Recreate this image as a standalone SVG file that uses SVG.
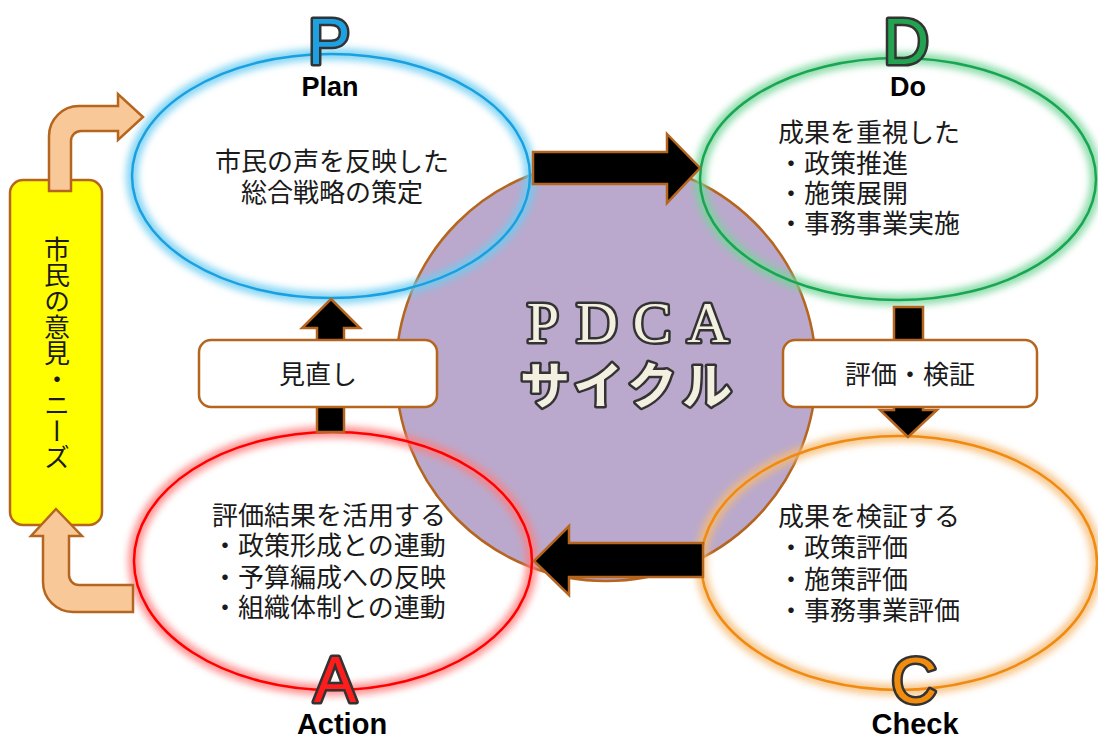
<svg xmlns="http://www.w3.org/2000/svg" width="1098" height="738" viewBox="0 0 1098 738">
<defs>
<style>
.jp{font-family:"Noto Sans CJK JP","Noto Sans",sans-serif;font-size:26px;fill:#1a1a1a;}
.lbl{font-family:"Liberation Sans",Arial,sans-serif;font-weight:bold;fill:#000;text-anchor:middle;}
.big{font-family:"Liberation Sans",Arial,sans-serif;font-size:64px;stroke:#333;stroke-width:5;stroke-linejoin:round;paint-order:stroke;text-anchor:middle;}
.pd{font-family:"Liberation Serif","Times New Roman",serif;font-size:58px;fill:#f4f0e1;stroke:#333;stroke-width:5;stroke-linejoin:round;paint-order:stroke;text-anchor:middle;}
.kt{font-family:"Noto Sans CJK JP",sans-serif;font-weight:bold;font-size:50px;fill:#f4f0e1;stroke:#333;stroke-width:5;stroke-linejoin:round;paint-order:stroke;text-anchor:middle;}
.blk{fill:#000;stroke:#b5651d;stroke-width:2.5;stroke-linejoin:miter;}
.peach{fill:#f9c899;stroke:#b5651d;stroke-width:2.5;}
.box{fill:#fff;stroke:#b5651d;stroke-width:2.5;}
.ring{fill:none;stroke-width:2.5;}
.glow{fill:none;stroke-width:12;opacity:0.8;filter:url(#blur);}
</style>
<filter id="blur" x="-10%" y="-10%" width="120%" height="120%"><feGaussianBlur stdDeviation="3.5"/></filter>
</defs>
<rect width="1098" height="738" fill="#fff"/>

<g id="cycle">
<circle cx="606" cy="371" r="210" fill="#baa9cc" stroke="#b5651d" stroke-width="2.5"/>
<text class="pd" x="543" y="342">P</text>
<text class="pd" x="597" y="342">D</text>
<text class="pd" x="652" y="342">C</text>
<text class="pd" x="708" y="342">A</text>
<text class="kt" x="545" y="404">サ</text>
<text class="kt" x="598" y="404">イ</text>
<text class="kt" x="652" y="404">ク</text>
<text class="kt" x="707" y="404">ル</text>
</g>

<g id="plan">
<ellipse class="glow" cx="331" cy="176" rx="199" ry="122" stroke="#6ccdf2"/>
<ellipse class="ring" cx="331" cy="176" rx="199" ry="122" stroke="#1aa0e0"/>
<text class="big" x="329" y="64" fill="#1da1e3">P</text>
<text class="lbl" x="330" y="96" font-size="27">Plan</text>
<text class="jp" x="332" y="171" text-anchor="middle">市民の声を反映した</text>
<text class="jp" x="332" y="202" text-anchor="middle">総合戦略の策定</text>
</g>

<g id="do">
<ellipse class="glow" cx="898" cy="179" rx="198" ry="121" stroke="#74d59a"/>
<ellipse class="ring" cx="898" cy="179" rx="198" ry="121" stroke="#1aa552"/>
<text class="big" x="906" y="64" fill="#21a350">D</text>
<text class="lbl" x="908" y="96" font-size="27">Do</text>
<text class="jp" x="778" y="142">成果を重視した</text>
<text class="jp" x="778" y="173">・政策推進</text>
<text class="jp" x="778" y="203">・施策展開</text>
<text class="jp" x="778" y="233">・事務事業実施</text>
</g>

<g id="check">
<ellipse class="glow" cx="899" cy="563" rx="198" ry="127" stroke="#f6bb74"/>
<ellipse class="ring" cx="899" cy="563" rx="198" ry="127" stroke="#f08a10"/>
<text class="big" x="914" y="703" fill="#f28c0f">C</text>
<text class="lbl" x="915" y="734" font-size="29">Check</text>
<text class="jp" x="778" y="526">成果を検証する</text>
<text class="jp" x="778" y="557">・政策評価</text>
<text class="jp" x="778" y="589">・施策評価</text>
<text class="jp" x="778" y="620">・事務事業評価</text>
</g>

<g id="action">
<ellipse class="glow" cx="333" cy="561" rx="199" ry="129" stroke="#ff7d7d"/>
<ellipse class="ring" cx="333" cy="561" rx="199" ry="129" stroke="#ff0000"/>
<text class="big" x="335" y="702" fill="#ff1c1c">A</text>
<text class="lbl" x="342" y="734" font-size="29">Action</text>
<text class="jp" x="212" y="525">評価結果を活用する</text>
<text class="jp" x="212" y="555">・政策形成との連動</text>
<text class="jp" x="212" y="587">・予算編成への反映</text>
<text class="jp" x="212" y="617">・組織体制との連動</text>
</g>

<g id="needs">
<rect x="10" y="180" width="92" height="345" rx="13" fill="#ffff00" stroke="#b5651d" stroke-width="2.5"/>
<text class="jp" x="57" y="353" writing-mode="vertical-rl" text-anchor="middle" style="writing-mode:vertical-rl">市民の意見・ニーズ</text>
</g>

<g id="connectors">
<path class="blk" d="M533,152 L667,152 L667,134 L700,168 L667,203 L667,184 L533,184 Z"/>
<path class="blk" d="M894,307 L923,307 L923,410 L937,410 L908,437 L880,410 L894,410 Z"/>
<path class="blk" d="M703,543 L569,543 L569,526 L534,561 L569,595 L569,577 L703,577 Z"/>
<path class="blk" d="M331,299 L360,328 L344,328 L344,432 L317,432 L317,328 L302,328 Z"/>
<path class="peach" d="M49,191 L49,136 A30,30 0 0 1 79,106 L118,106 L118,94 L143,117 L118,140 L118,131 L81,131 A10,10 0 0 0 71,141 L71,191 Z"/>
<path class="peach" d="M56,509 L82,536 L69,536 L69,575 A10,10 0 0 0 79,585 L133,585 L133,612 L73,612 A30,30 0 0 1 43,582 L43,536 L31,536 Z"/>
</g>

<g id="review">
<rect class="box" x="199" y="340" width="238" height="67" rx="12"/>
<text class="jp" x="318" y="384" text-anchor="middle">見直し</text>
</g>

<g id="evaluate">
<rect class="box" x="783" y="340" width="254" height="67" rx="12"/>
<text class="jp" x="910" y="384" text-anchor="middle">評価・検証</text>
</g>
</svg>
